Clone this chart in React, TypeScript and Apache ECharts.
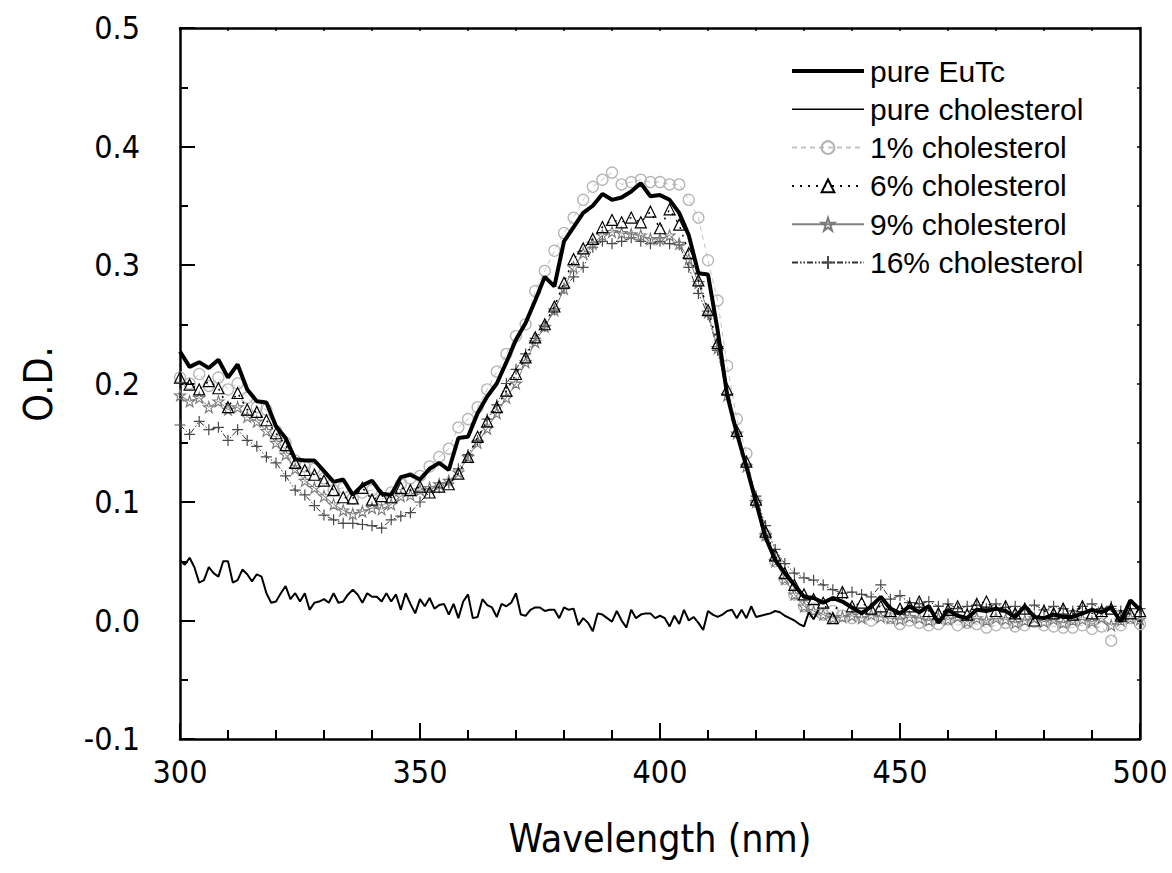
import React, { useEffect, useRef } from "react";
import * as echarts from "echarts";

// Wavelength grid (nm) for sampled series
const WL2: number[] = Array.from({ length: 101 }, (_, i) => 300 + 2 * i);
const WL1: number[] = Array.from({ length: 134 }, (_, i) => 300 + i);

const pureEuTc = [
  0.227, 0.214, 0.218, 0.213, 0.220, 0.205, 0.216, 0.195, 0.185, 0.184,
  0.164, 0.154, 0.136, 0.135, 0.135, 0.126, 0.117, 0.119, 0.106, 0.114,
  0.118, 0.107, 0.106, 0.121, 0.123, 0.119, 0.128, 0.133, 0.127, 0.154,
  0.155, 0.175, 0.189, 0.200, 0.218, 0.237, 0.251, 0.270, 0.290, 0.282,
  0.320, 0.332, 0.344, 0.350, 0.360, 0.355, 0.357, 0.362, 0.369, 0.358,
  0.359, 0.355, 0.344, 0.325, 0.293, 0.292, 0.245, 0.190, 0.158, 0.130,
  0.100, 0.070, 0.051, 0.040, 0.030, 0.020, 0.019, 0.015, 0.019, 0.016,
  0.011, 0.006, 0.012, 0.020, 0.010, 0.006, 0.012, 0.007, 0.012, -0.002,
  0.009, 0.004, 0.002, 0.009, 0.008, 0.010, 0.008, 0.003, 0.012, 0.003,
  0.002, 0.005, 0.003, 0.003, 0.006, 0.009, 0.007, 0.011, -0.001, 0.017,
  0.009,
];

const pureCholesterol = [
  0.051, 0.047, 0.053, 0.045, 0.032, 0.034, 0.045, 0.040, 0.037, 0.050,
  0.050, 0.032, 0.034, 0.043, 0.039, 0.033, 0.039, 0.037, 0.023, 0.015,
  0.016, 0.023, 0.029, 0.018, 0.023, 0.016, 0.023, 0.009, 0.015, 0.016,
  0.018, 0.015, 0.023, 0.015, 0.016, 0.022, 0.026, 0.022, 0.015, 0.023,
  0.020, 0.020, 0.016, 0.023, 0.016, 0.022, 0.009, 0.023, 0.014, 0.006,
  0.018, 0.012, 0.019, 0.010, 0.013, 0.014, 0.005, 0.014, 0.002, 0.016,
  0.022, 0.002, 0.003, 0.018, 0.013, 0.011, 0.003, 0.014, 0.012, 0.015,
  0.023, 0.005, 0.004, 0.009, 0.011, 0.011, 0.008, 0.009, 0.009, 0.002,
  0.011, 0.009, 0.010, -0.004, 0.002, -0.002, -0.009, 0.006, 0.005, 0.002,
  -0.001, 0.008, 0.000, -0.006, 0.009, 0.002, 0.005, 0.006, 0.006, 0.002,
  0.004, 0.002, -0.005, 0.004, -0.003, 0.009, 0.000, 0.003, -0.002, -0.008,
  0.008, 0.005, 0.003, 0.005, 0.008, 0.009, 0.002, 0.009, 0.002, 0.012,
  0.003, 0.004, 0.005, 0.006, 0.008, 0.007, 0.004, 0.002, 0.000, -0.003,
  -0.005, 0.007, 0.001, 0.009,
];

const chol1 = [
  0.205, 0.200, 0.208, 0.198, 0.205, 0.195, 0.200, 0.188, 0.180, 0.178,
  0.160, 0.150, 0.135, 0.130, 0.128, 0.120, 0.110, 0.112, 0.103, 0.108,
  0.110, 0.102, 0.108, 0.115, 0.120, 0.122, 0.130, 0.138, 0.145, 0.163,
  0.170, 0.180, 0.195, 0.210, 0.225, 0.240, 0.250, 0.278, 0.295, 0.312,
  0.327, 0.340, 0.355, 0.366, 0.372, 0.378, 0.368, 0.370, 0.372, 0.370,
  0.370, 0.368, 0.368, 0.355, 0.340, 0.304, 0.270, 0.215, 0.170, 0.141,
  0.100, 0.072, 0.050, 0.035, 0.022, 0.012, 0.010, 0.005, 0.008, 0.004,
  0.002, 0.004, 0.000, 0.008, 0.002, -0.003, 0.000, -0.002, -0.004, -0.003,
  0.001, -0.004, -0.002, -0.003, -0.006, -0.004, -0.002, -0.005, -0.004, -0.001,
  -0.004, -0.005, -0.006, -0.006, -0.004, -0.007, -0.005, -0.017, -0.004, 0.002,
  -0.003,
];

const chol6 = [
  0.205, 0.199, 0.195, 0.202, 0.196, 0.180, 0.192, 0.178, 0.176, 0.169,
  0.158, 0.148, 0.133, 0.127, 0.123, 0.118, 0.110, 0.104, 0.103, 0.112,
  0.102, 0.105, 0.104, 0.112, 0.110, 0.113, 0.108, 0.113, 0.115, 0.124,
  0.138, 0.155, 0.168, 0.180, 0.194, 0.208, 0.222, 0.239, 0.250, 0.265,
  0.285, 0.305, 0.314, 0.322, 0.332, 0.338, 0.336, 0.340, 0.336, 0.345,
  0.331, 0.347, 0.334, 0.310, 0.287, 0.262, 0.234, 0.195, 0.160, 0.134,
  0.102, 0.075, 0.055, 0.040, 0.030, 0.022, 0.018, 0.015, 0.002, 0.024,
  0.012, 0.015, 0.010, 0.012, 0.008, 0.010, 0.012, 0.016, 0.008, 0.006,
  0.009, 0.012, 0.005, 0.014, 0.016, 0.008, 0.012, 0.006, 0.010, 0.000,
  0.008, 0.006, 0.010, 0.005, 0.012, 0.006, 0.008, 0.010, 0.004, 0.006,
  0.008,
];

const chol9 = [
  0.190, 0.185, 0.188, 0.180, 0.185, 0.178, 0.180, 0.172, 0.168, 0.160,
  0.150, 0.140, 0.128, 0.118, 0.112, 0.105, 0.098, 0.093, 0.090, 0.092,
  0.095, 0.094, 0.098, 0.105, 0.106, 0.110, 0.112, 0.115, 0.118, 0.125,
  0.138, 0.150, 0.162, 0.175, 0.188, 0.200, 0.218, 0.235, 0.248, 0.262,
  0.280, 0.298, 0.310, 0.318, 0.325, 0.328, 0.327, 0.326, 0.325, 0.322,
  0.322, 0.325, 0.318, 0.305, 0.285, 0.260, 0.230, 0.190, 0.158, 0.130,
  0.100, 0.072, 0.050, 0.035, 0.022, 0.012, 0.008, 0.005, 0.002, 0.003,
  0.004, 0.002, 0.005, 0.003, 0.002, 0.001, 0.003, 0.002, 0.000, 0.002,
  0.001, 0.003, -0.001, 0.002, 0.000, 0.002, 0.001, -0.002, 0.000, 0.002,
  -0.001, 0.001, -0.002, 0.000, 0.001, -0.001, 0.002, -0.004, 0.000, 0.002,
  0.001,
];

const chol16 = [
  0.165, 0.157, 0.168, 0.161, 0.163, 0.152, 0.161, 0.152, 0.147, 0.138,
  0.133, 0.122, 0.110, 0.106, 0.097, 0.089, 0.085, 0.082, 0.082, 0.081,
  0.080, 0.078, 0.085, 0.088, 0.091, 0.100, 0.108, 0.112, 0.116, 0.128,
  0.140, 0.152, 0.170, 0.182, 0.200, 0.212, 0.225, 0.238, 0.248, 0.262,
  0.280, 0.290, 0.298, 0.315, 0.320, 0.318, 0.320, 0.323, 0.320, 0.318,
  0.320, 0.318, 0.317, 0.298, 0.276, 0.258, 0.228, 0.190, 0.158, 0.132,
  0.105, 0.080, 0.060, 0.048, 0.040, 0.036, 0.034, 0.030, 0.026, 0.023,
  0.024, 0.022, 0.020, 0.030, 0.018, 0.021, 0.015, 0.014, 0.016, 0.012,
  0.014, 0.010, 0.012, 0.013, 0.010, 0.014, 0.011, 0.012, 0.010, 0.013,
  0.009, 0.012, 0.010, 0.008, 0.012, 0.014, 0.010, 0.012, 0.008, 0.010,
  0.010,
];

const seriesNames = [
  "pure EuTc",
  "pure cholesterol",
  "1% cholesterol",
  "6% cholesterol",
  "9% cholesterol",
  "16% cholesterol",
];

const STAR =
  "path://M50,2 L61,36 L97,36 L68,57 L79,92 L50,71 L21,92 L32,57 L3,36 L39,36 Z";
const CROSS = "path://M50,0 L50,100 M0,50 L100,50";

const TICK_FONT = "'DejaVu Sans Condensed', 'DejaVu Sans', sans-serif";
const LEGEND_FONT = "'Liberation Sans', Arial, sans-serif";

const pairs = (xs: number[], ys: number[]) => ys.map((y, i) => [xs[i], y]);

export default function App() {
  const ref = useRef<HTMLDivElement>(null);
  useEffect(() => {
    if (!ref.current) return;
    const chart = echarts.init(ref.current, null, { renderer: "svg" });
    const axisLine = { show: true, onZero: false, lineStyle: { color: "#000", width: 2.5 } };
    const hiddenSymbol = { color: "transparent", borderColor: "transparent", borderWidth: 0, opacity: 0 };
    chart.setOption({
      animation: false,
      backgroundColor: "#fff",
      grid: { left: 180, right: 32, top: 28, bottom: 134, containLabel: false },
      xAxis: [
        {
          type: "value",
          min: 300,
          max: 500,
          interval: 50,
          position: "bottom",
          axisLine,
          axisTick: { show: true, inside: true, length: 16, lineStyle: { color: "#000", width: 2 } },
          minorTick: { show: true, splitNumber: 5, length: 9, lineStyle: { color: "#000", width: 2 } },
          axisLabel: { margin: 17, fontSize: 32, color: "#000", fontFamily: TICK_FONT },
          splitLine: { show: false },
          minorSplitLine: { show: false },
        },
        {
          type: "value",
          min: 300,
          max: 500,
          interval: 50,
          position: "top",
          axisLine,
          axisTick: { show: true, inside: true, length: 3, lineStyle: { color: "#000", width: 1.5 } },
          minorTick: { show: true, splitNumber: 5, length: 3, lineStyle: { color: "#000", width: 1.5 } },
          axisLabel: { show: false },
          splitLine: { show: false },
        },
      ],
      yAxis: [
        {
          type: "value",
          min: -0.1,
          max: 0.5,
          interval: 0.1,
          position: "left",
          axisLine,
          axisTick: { show: true, inside: true, length: 15, lineStyle: { color: "#000", width: 2 } },
          minorTick: { show: true, splitNumber: 2, length: 8, lineStyle: { color: "#000", width: 2 } },
          axisLabel: {
            margin: 40,
            fontSize: 32,
            color: "#000",
            fontFamily: TICK_FONT,
            formatter: (v: number) => v.toFixed(1),
          },
          splitLine: { show: false },
          minorSplitLine: { show: false },
        },
        {
          type: "value",
          min: -0.1,
          max: 0.5,
          interval: 0.1,
          position: "right",
          axisLine,
          axisTick: { show: true, inside: true, length: 3, lineStyle: { color: "#000", width: 1.5 } },
          minorTick: { show: true, splitNumber: 2, length: 3, lineStyle: { color: "#000", width: 1.5 } },
          axisLabel: { show: false },
          splitLine: { show: false },
        },
      ],
      legend: {
        orient: "vertical",
        left: 785,
        top: 51,
        itemWidth: 72,
        itemHeight: 16,
        itemGap: 8.3,
        data: [
          { name: seriesNames[0], itemStyle: hiddenSymbol, lineStyle: { width: 4, color: "#000" } },
          { name: seriesNames[1], itemStyle: hiddenSymbol, lineStyle: { width: 1.6, color: "#000" } },
          seriesNames[2],
          seriesNames[3],
          seriesNames[4],
          seriesNames[5],
        ],
        textStyle: {
          fontFamily: LEGEND_FONT,
          fontSize: 30,
          lineHeight: 30,
          color: "#000",
          padding: [0, 0, 0, 1],
        },
      },
      graphic: [
        {
          type: "text",
          x: 660,
          y: 838,
          style: {
            text: "Wavelength (nm)",
            fill: "#000",
            font: `39px ${TICK_FONT}`,
            textAlign: "center",
            textVerticalAlign: "middle",
          },
        },
        {
          type: "text",
          x: 38,
          y: 384,
          rotation: Math.PI / 2,
          style: {
            text: "O.D.",
            fill: "#000",
            font: `39px ${TICK_FONT}`,
            textAlign: "center",
            textVerticalAlign: "middle",
          },
        },
      ],
      series: [
        {
          name: "1% cholesterol",
          type: "line",
          z: 2,
          data: pairs(WL2, chol1),
          symbol: "circle",
          symbolSize: 11,
          showAllSymbol: true,
          itemStyle: { color: "transparent", borderColor: "#b5b5b5", borderWidth: 1.3 },
          lineStyle: { color: "#c4c4c4", width: 1, type: [5, 4] },
        },
        {
          name: "16% cholesterol",
          type: "line",
          z: 3,
          data: pairs(WL2, chol16),
          symbol: CROSS,
          symbolSize: 11,
          showAllSymbol: true,
          itemStyle: { color: "transparent", borderColor: "#4a4a4a", borderWidth: 1.2 },
          lineStyle: { color: "#333", width: 1, type: [6, 2, 1.5, 2, 1.5, 2] },
        },
        {
          name: "9% cholesterol",
          type: "line",
          z: 4,
          data: pairs(WL2, chol9),
          symbol: STAR,
          symbolSize: 11,
          showAllSymbol: true,
          itemStyle: { color: "transparent", borderColor: "#7a7a7a", borderWidth: 1.1 },
          lineStyle: { color: "#808080", width: 1 },
        },
        {
          name: "6% cholesterol",
          type: "line",
          z: 5,
          data: pairs(WL2, chol6),
          symbol: "triangle",
          symbolSize: 11,
          showAllSymbol: true,
          itemStyle: { color: "transparent", borderColor: "#000", borderWidth: 1.2 },
          lineStyle: { color: "#000", width: 1.5, type: [2, 6] },
        },
        {
          name: "pure cholesterol",
          type: "line",
          z: 6,
          data: pairs(WL1, pureCholesterol),
          symbol: "none",
          lineStyle: { color: "#000", width: 2 },
          itemStyle: { color: "#000" },
        },
        {
          name: "pure EuTc",
          type: "line",
          z: 7,
          data: pairs(WL2, pureEuTc),
          symbol: "none",
          lineStyle: { color: "#000", width: 4 },
          itemStyle: { color: "#000" },
        },
      ],
    });
    return () => chart.dispose();
  }, []);
  return (
    <div
      ref={ref}
      style={{ position: "fixed", left: 0, top: 0, width: 1172, height: 873, background: "#fff" }}
    />
  );
}
